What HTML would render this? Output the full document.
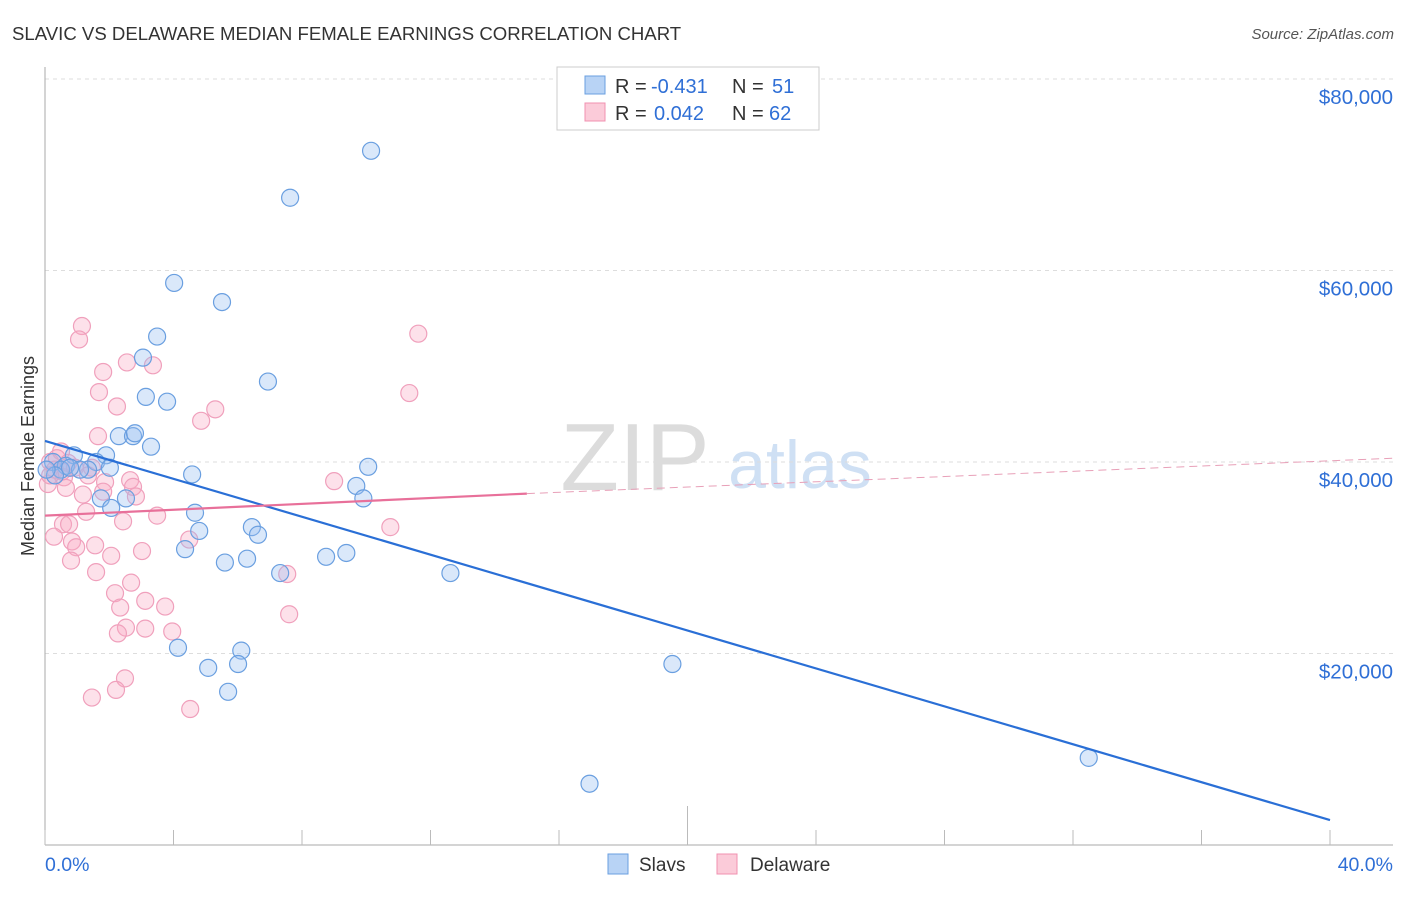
<!DOCTYPE html>
<html><head><meta charset="utf-8"><style>
body{margin:0;background:#fff;font-family:"Liberation Sans",sans-serif}
svg text{font-family:"Liberation Sans",sans-serif}
</style></head><body>
<svg id="c" width="1406" height="892" xmlns="http://www.w3.org/2000/svg">
<text x="12" y="40" font-size="18.6" fill="#333">SLAVIC VS DELAWARE MEDIAN FEMALE EARNINGS CORRELATION CHART</text>
<text x="1394" y="39" font-size="15" fill="#555" font-style="italic" text-anchor="end">Source: ZipAtlas.com</text>
<g>
<text x="635" y="490" font-size="96" fill="#dcdcdc" text-anchor="middle" font-family="Liberation Serif">ZIP</text>
<text x="800" y="488" font-size="68" fill="#cfe0f4" text-anchor="middle">atlas</text>
</g>
<g id="grid"></g><g id="axes"></g><g id="pts"></g><g id="lines"></g>
<text transform="translate(34,456) rotate(-90)" font-size="18" fill="#333" text-anchor="middle">Median Female Earnings</text>
<g>
<rect x="557" y="67" width="262" height="63" fill="#fff" stroke="#ccc"/>
<rect x="585" y="76" width="20" height="18" fill="#b8d3f5" stroke="#6a9fe0"/>
<rect x="585" y="103" width="20" height="18" fill="#fbcbd9" stroke="#f090b0"/>
<text x="615" y="93" font-size="20" fill="#333">R =</text>
<text x="651" y="93" font-size="20" fill="#2f6fd6">-0.431</text>
<text x="732" y="93" font-size="20" fill="#333">N =</text>
<text x="772" y="93" font-size="20" fill="#2f6fd6">51</text>
<text x="615" y="120" font-size="20" fill="#333">R =</text>
<text x="654" y="120" font-size="20" fill="#2f6fd6">0.042</text>
<text x="732" y="120" font-size="20" fill="#333">N =</text>
<text x="769" y="120" font-size="20" fill="#2f6fd6">62</text>
</g>
<g>
<rect x="608" y="854" width="20" height="20" fill="#b8d3f5" stroke="#6a9fe0"/>
<text x="639" y="871" font-size="19" fill="#333">Slavs</text>
<rect x="717" y="854" width="20" height="20" fill="#fbcbd9" stroke="#f090b0"/>
<text x="750" y="871" font-size="19" fill="#333">Delaware</text>
</g>
</svg>
<script>
const yTicks=[20000,40000,60000,80000];
const yTickLabels=["$20,000","$40,000","$60,000","$80,000"];
const xTickVals=[0,4,8,12,16,20,24,28,32,36,40];
const xLabels=["0.0%","40.0%"];
const slavsX=[10.15,7.63,4.02,5.51,3.49,3.05,6.94,3.14,3.80,2.30,2.74,2.80,3.30,1.90,0.90,1.59,0.25,0.65,1.34,4.58,1.09,0.50,10.06,9.69,9.91,1.74,2.52,2.06,4.67,6.44,4.80,6.63,4.36,9.38,8.75,5.60,6.29,7.32,12.62,4.14,6.11,6.01,5.08,19.53,5.70,32.49,16.95,0.31,0.05,0.78,2.02];
const slavsY=[72.5,67.6,58.7,56.7,53.1,50.9,48.4,46.8,46.3,42.7,42.7,43.0,41.6,40.7,40.7,40.0,40.0,39.6,39.2,38.7,39.2,39.2,39.5,37.5,36.2,36.2,36.2,35.2,34.7,33.2,32.8,32.4,30.9,30.5,30.1,29.5,29.9,28.4,28.4,20.6,20.3,18.9,18.5,18.9,16.0,9.1,6.4,38.6,39.2,39.4,39.4];
const delX=[11.62,1.15,1.06,2.55,3.36,1.81,1.68,11.34,2.24,5.30,4.86,1.65,0.50,0.16,0.31,0.59,0.09,9.00,2.65,1.87,2.74,1.18,1.81,2.83,1.28,3.49,2.43,0.56,0.75,10.75,0.28,4.49,0.84,1.56,0.97,3.02,2.06,0.81,1.59,7.54,2.68,2.18,3.12,3.74,2.34,7.60,2.52,3.12,2.27,3.96,2.49,2.21,1.46,4.52,0.37,0.72,0.53,0.93,0.16,1.46,1.34,0.65];
const delY=[53.4,54.2,52.8,50.4,50.1,49.4,47.3,47.2,45.8,45.5,44.3,42.7,41.1,40.0,39.2,38.4,37.7,38.0,38.1,37.9,37.4,36.6,36.9,36.4,34.8,34.4,33.8,33.5,33.5,33.2,32.2,31.9,31.7,31.3,31.1,30.7,30.2,29.7,28.5,28.3,27.4,26.3,25.5,24.9,24.8,24.1,22.7,22.6,22.1,22.3,17.4,16.2,15.4,14.2,40.4,39.9,39.0,39.4,38.6,39.4,38.6,37.3];
const slavsTrendX=[0,40];const slavsTrendY=[42.2,2.6];
const delTrendX=[0,15,42];const delTrendY=[34.4,36.7,40.4];
const NS="http://www.w3.org/2000/svg";
const X=v=>45+v*32.125, Y=k=>845-k*9.575;
function mk(t,a,p){const e=document.createElementNS(NS,t);for(const k in a)e.setAttribute(k,a[k]);document.getElementById(p).appendChild(e);return e;}
yTicks.forEach((t,i)=>{
 let g=mk('line',{x1:45,x2:1393,y1:Y(t/1000),y2:Y(t/1000),stroke:'#ddd','stroke-dasharray':'4,4'},'grid');
 
 
 let l=mk('text',{x:1393,y:Y(t/1000)+25,'font-size':20.5,fill:'#2f6fd6','text-anchor':'end'},'axes');
 l.textContent=yTickLabels[i];
 
 
});
let ya=mk('line',{x1:45,x2:45,y1:67,y2:845,stroke:'#aaa'},'axes');


let xa=mk('line',{x1:45,x2:1393,y1:845,y2:845,stroke:'#aaa'},'axes');


xTickVals.forEach(v=>{
 let t=mk('line',{x1:X(v),x2:X(v),y1:v==20?806:830,y2:845,stroke:'#bbb'},'axes');
 
 
});
[[0,'start',45],[40,'end',1393]].forEach((o,i)=>{
 let l=mk('text',{x:o[2],y:871,'font-size':19.5,fill:'#2f6fd6','text-anchor':o[1]},'axes');
 l.textContent=xLabels[i];
 
 
});
delX.forEach((v,i)=>{
 let c=mk('circle',{cx:X(v),cy:Y(delY[i]),r:8.5,fill:'rgba(248,170,195,0.35)',stroke:'#f0a0bc','stroke-width':1.2},'pts');
 
 
});
slavsX.forEach((v,i)=>{
 let c=mk('circle',{cx:X(v),cy:Y(slavsY[i]),r:8.5,fill:'rgba(150,190,240,0.35)',stroke:'#6a9fe0','stroke-width':1.2},'pts');
 
 
});
let sl=mk('line',{x1:X(slavsTrendX[0]),y1:Y(slavsTrendY[0]),x2:X(slavsTrendX[1]),y2:Y(slavsTrendY[1]),stroke:'#2a6fd6','stroke-width':2.2},'lines');


let dl=mk('line',{x1:X(delTrendX[0]),y1:Y(delTrendY[0]),x2:X(delTrendX[1]),y2:Y(delTrendY[1]),stroke:'#e8709a','stroke-width':2.2},'lines');


let dd=mk('line',{x1:X(delTrendX[1]),y1:Y(delTrendY[1]),x2:X(delTrendX[2]),y2:Y(delTrendY[2]),stroke:'#e8a0b8','stroke-width':1,'stroke-dasharray':'8,5'},'lines');


</script>
</body></html>
